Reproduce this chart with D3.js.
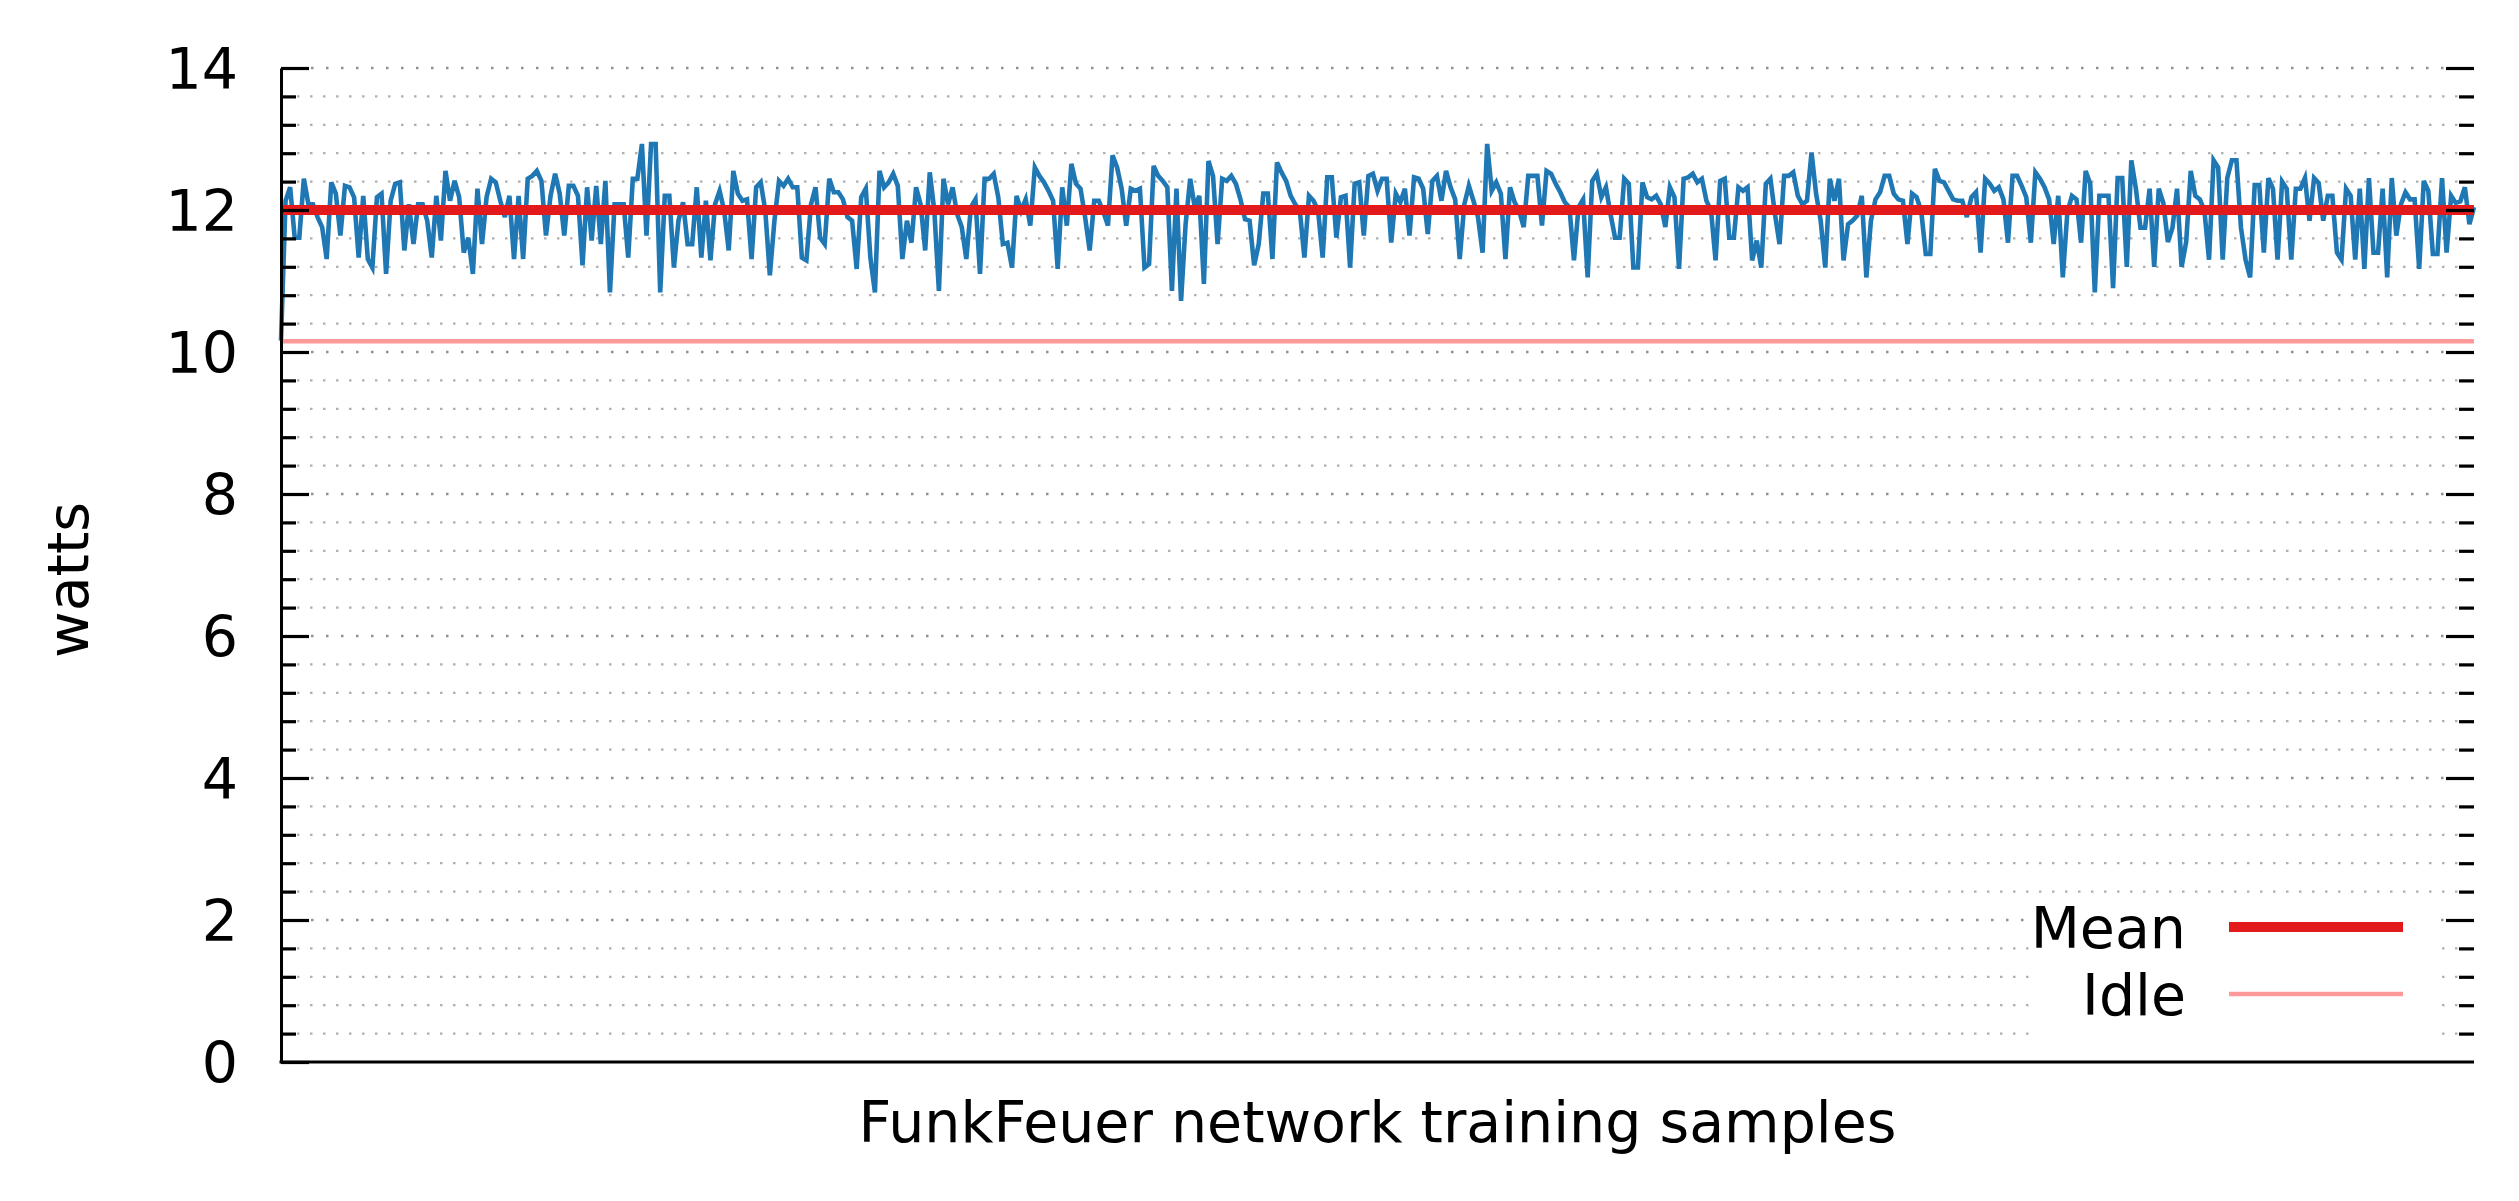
<!DOCTYPE html>
<html>
<head>
<meta charset="utf-8">
<script src="https://cdn.jsdelivr.net/npm/d3@7"></script>
<style>
  html, body { margin: 0; padding: 0; background: #fff; }
  svg { display: block; }
  text { font-family: "DejaVu Sans", sans-serif; fill: #000; }
</style>
</head>
<body>
<svg id="chart" width="2519" height="1201"></svg>
<script>
// ---- data ----
const yMajorTicks = [0, 2, 4, 6, 8, 10, 12, 14];
const yMinorTicks = [0.4, 0.8, 1.2, 1.6, 2.4, 2.8, 3.2, 3.6, 4.4, 4.8, 5.2, 5.6,
  6.4, 6.8, 7.2, 7.6, 8.4, 8.8, 9.2, 9.6, 10.4, 10.8, 11.2, 11.6, 12.4, 12.8, 13.2, 13.6];
const meanWatts = 12.0;
const idleWatts = 10.15;
const legendLabels = ["Mean", "Idle"];
const xTitle = "FunkFeuer network training samples";
const yTitle = "watts";

const power = [
  10.16, 12.13, 12.32, 11.61, 11.61, 12.44, 12.08, 12.08, 11.9, 11.76, 11.31, 12.39, 12.23, 11.64, 12.34, 12.32,
  12.18, 11.33, 12.2, 11.31, 11.19, 12.18, 12.23, 11.1, 12.13, 12.37, 12.39, 11.43, 12.08, 11.52, 12.08, 12.08,
  11.85, 11.33, 12.2, 11.57, 12.55, 12.13, 12.41, 12.18, 11.4, 11.61, 11.1, 12.3, 11.52, 12.18, 12.44, 12.39,
  12.13, 11.9, 12.2, 11.31, 12.2, 11.31, 12.44, 12.48, 12.55, 12.41, 11.64, 12.2, 12.51, 12.23, 11.64, 12.34,
  12.34, 12.2, 11.22, 12.32, 11.57, 12.34, 11.52, 12.41, 10.84, 12.08, 12.08, 12.08, 11.33, 12.44, 12.44, 12.93,
  11.64, 12.93, 12.93, 10.84, 12.2, 12.2, 11.19, 11.85, 12.11, 11.52,
  11.52, 12.32, 11.33, 12.13, 11.29, 12.08, 12.27, 11.99, 11.43, 12.55, 12.23, 12.13, 12.15, 11.31, 12.32, 12.39,
  11.99, 11.08, 11.85, 12.41, 12.34, 12.44, 12.32, 12.32, 11.33, 11.29, 12.08, 12.32, 11.61, 11.52, 12.44, 12.25,
  12.25, 12.15, 11.9, 11.85, 11.17, 12.18, 12.3, 11.33, 10.84, 12.55, 12.32, 12.39, 12.51, 12.34, 11.31, 11.85,
  11.54, 12.32, 12.08, 11.43, 12.53, 11.99, 10.86, 12.44, 12.08, 12.32, 11.94, 11.76, 11.31, 12.04, 12.15, 11.1,
  12.44, 12.44, 12.51, 12.18, 11.52, 11.54, 11.19, 12.2, 11.99, 12.15, 11.78, 12.6, 12.48, 12.39, 12.27, 12.13,
  11.17, 12.32, 11.78, 12.65, 12.37, 12.3, 11.9, 11.43, 12.13, 12.13, 11.97, 11.78, 12.77, 12.6, 12.3, 11.78,
  12.3, 12.27, 12.3, 11.19,
  11.24, 12.62, 12.48, 12.41, 12.32, 10.86, 12.3, 10.72, 11.8, 12.44, 12.04, 12.2, 10.96, 12.69, 12.48, 11.52,
  12.44, 12.41, 12.48, 12.37, 12.15, 11.87, 11.85, 11.22, 11.52, 12.23, 12.23, 11.31, 12.67, 12.53, 12.41, 12.2,
  12.08, 11.99, 11.33, 12.2, 12.13, 11.99, 11.33, 12.46, 12.46, 11.61, 12.18, 12.2, 11.19, 12.37, 12.39, 11.64,
  12.48, 12.51, 12.27, 12.44, 12.44, 11.54, 12.23, 12.11, 12.3, 11.64, 12.46, 12.44, 12.3, 11.66, 12.41, 12.48,
  12.13, 12.55, 12.32, 12.15, 11.31, 12.08, 12.34, 12.13, 11.9, 11.4, 12.93, 12.27, 12.39, 12.23, 11.31, 12.32,
  12.11, 11.99, 11.76, 12.48, 12.48, 12.48, 11.78, 12.55, 12.51, 12.37, 12.25, 12.11, 12.04, 11.29, 12.04, 12.15,
  11.05, 12.41, 12.51, 12.18, 12.32, 11.94, 11.61, 11.61, 12.44, 12.37, 11.19,
  11.19, 12.39, 12.18, 12.15, 12.2, 12.08, 11.76, 12.32, 12.18, 11.17, 12.44, 12.46, 12.51, 12.39, 12.44, 12.13,
  11.99, 11.29, 12.41, 12.44, 11.61, 11.61, 12.32, 12.27, 12.32, 11.29, 11.57, 11.19, 12.37, 12.44, 11.94, 11.52,
  12.48, 12.48, 12.53, 12.2, 12.08, 12.13, 12.81, 12.23, 11.85, 11.19, 12.44, 12.13, 12.44, 11.29, 11.8, 11.85,
  11.92, 12.2, 11.05, 11.85, 12.15, 12.25, 12.48, 12.48, 12.23, 12.15, 12.13, 11.52, 12.23, 12.18, 11.99, 11.38,
  11.38, 12.58, 12.41, 12.39, 12.27, 12.15, 12.13, 12.13, 11.9, 12.18, 12.25, 11.4, 12.44, 12.37, 12.27, 12.32,
  12.15, 11.54, 12.48, 12.48, 12.34, 12.18, 11.54, 12.53, 12.44, 12.32, 12.15, 11.52, 12.2, 11.05, 11.97, 12.2,
  12.15, 11.54, 12.55, 12.37, 10.84, 12.2,
  12.2, 12.2, 10.9, 12.45, 12.45, 11.2, 12.7, 12.3, 11.75, 11.75, 12.3, 11.2, 12.3, 12.1, 11.55, 11.75,
  12.3, 11.2, 11.55, 12.55, 12.2, 12.15, 11.99, 11.3, 12.7, 12.6, 11.3, 12.45, 12.7, 12.7, 11.75, 11.3,
  11.05, 12.35, 12.35, 11.4, 12.45, 12.3, 11.3, 12.4, 12.3, 11.3, 12.3, 12.3, 12.45, 11.85, 12.45, 12.38,
  11.85, 12.2, 12.2, 11.4, 11.3, 12.3, 12.2, 11.3, 12.3, 11.17, 12.45, 11.4, 11.4, 12.3, 11.05, 12.45,
  11.64, 12.08, 12.25, 12.15, 12.15, 11.17, 12.41, 12.27, 11.38, 11.38, 12.45, 11.4, 12.2, 12.1, 12.12, 12.32,
  11.8, 12.04
];

// ---- layout ----
const plot = { left: 281, right: 2474, top: 68, bottom: 1062 };
const FONT = 57;

const svg = d3.select("#chart");

const x = d3.scaleLinear().domain([0, power.length - 1]).range([plot.left, plot.right]);
const y = d3.scaleLinear().domain([0, 14]).range([plot.bottom, plot.top]);

// ---- grid (dotted) ----
const grid = svg.append("g");
grid.selectAll("line.minor").data(yMinorTicks).join("line")
  .attr("class", "minor")
  .attr("x1", plot.left + 16).attr("x2", plot.right - 16)
  .attr("y1", d => y(d)).attr("y2", d => y(d))
  .attr("stroke", "#b0b0b0").attr("stroke-width", 2.2)
  .attr("stroke-dasharray", "2.5,10.5");
grid.selectAll("line.major").data(yMajorTicks.filter(d => d > 0)).join("line")
  .attr("class", "major")
  .attr("x1", plot.left + 30).attr("x2", plot.right - 30)
  .attr("y1", d => y(d)).attr("y2", d => y(d))
  .attr("stroke", "#909090").attr("stroke-width", 2.5)
  .attr("stroke-dasharray", "2.5,12.5");

// ---- legend background (covers grid) ----
svg.append("rect")
  .attr("x", 2036).attr("y", 900).attr("width", 404).attr("height", 145)
  .attr("fill", "#fff");

// ---- series ----
svg.append("path")
  .datum(power)
  .attr("fill", "none")
  .attr("stroke", "#1f78b4")
  .attr("stroke-width", 4.6)
  .attr("stroke-linejoin", "miter")
  .attr("d", d3.line().x((d, i) => x(i)).y(d => y(d)));

// idle & mean lines
svg.append("line")
  .attr("x1", plot.left).attr("x2", plot.right)
  .attr("y1", y(idleWatts)).attr("y2", y(idleWatts))
  .attr("stroke", "#ff9999").attr("stroke-width", 4.5);
svg.append("line")
  .attr("x1", plot.left).attr("x2", plot.right)
  .attr("y1", y(meanWatts)).attr("y2", y(meanWatts))
  .attr("stroke", "#e31a1c").attr("stroke-width", 10);

// ---- axes ----
function styleAxis(g) {
  g.selectAll("path.domain").attr("stroke", "#000").attr("stroke-width", 3);
  g.selectAll(".tick line").attr("stroke", "#000").attr("stroke-width", 3.2);
  g.selectAll(".tick text").attr("font-size", FONT).attr("font-family", "DejaVu Sans").attr("fill", "#000");
}

const leftMajor = svg.append("g").attr("transform", `translate(${plot.left},0)`)
  .call(d3.axisLeft(y).tickValues(yMajorTicks).tickSize(-28).tickSizeOuter(0).tickPadding(43)
    .tickFormat(d3.format("d")));
styleAxis(leftMajor);
leftMajor.selectAll(".tick text").attr("dy", "0.36em");

const leftMinor = svg.append("g").attr("transform", `translate(${plot.left},0)`)
  .call(d3.axisLeft(y).tickValues(yMinorTicks).tickSize(-15).tickSizeOuter(0).tickFormat(""));
styleAxis(leftMinor);
leftMinor.select("path.domain").remove();

const rightMajor = svg.append("g").attr("transform", `translate(${plot.right},0)`)
  .call(d3.axisRight(y).tickValues(yMajorTicks.filter(d => d > 0)).tickSize(-28).tickSizeOuter(0).tickFormat(""));
styleAxis(rightMajor);
rightMajor.select("path.domain").remove();

const rightMinor = svg.append("g").attr("transform", `translate(${plot.right},0)`)
  .call(d3.axisRight(y).tickValues(yMinorTicks).tickSize(-15).tickSizeOuter(0).tickFormat(""));
styleAxis(rightMinor);
rightMinor.select("path.domain").remove();

const bottom = svg.append("g").attr("transform", `translate(0,${plot.bottom})`)
  .call(d3.axisBottom(x).tickValues([]).tickSizeOuter(0));
styleAxis(bottom);
bottom.select("path.domain").attr("d", `M${plot.left - 1.5},0H${plot.right}`);

// ---- titles ----
svg.append("text")
  .attr("x", (plot.left + plot.right) / 2).attr("y", 1142)
  .attr("text-anchor", "middle").attr("font-size", FONT)
  .text(xTitle);
svg.append("text")
  .attr("transform", `translate(88,580) rotate(-90)`)
  .attr("text-anchor", "middle").attr("font-size", FONT)
  .text(yTitle);

// ---- legend ----
const legendStyles = [
  { color: "#e31a1c", width: 10 },
  { color: "#ff9999", width: 4.5 }
];
const legendY = [927, 994];
const lg = svg.append("g");
legendLabels.forEach((label, i) => {
  lg.append("text")
    .attr("x", 2186).attr("y", legendY[i]).attr("dy", "0.36em")
    .attr("text-anchor", "end").attr("font-size", FONT)
    .text(label);
  lg.append("line")
    .attr("x1", 2229).attr("x2", 2403)
    .attr("y1", legendY[i]).attr("y2", legendY[i])
    .attr("stroke", legendStyles[i].color).attr("stroke-width", legendStyles[i].width);
});
</script>
</body>
</html>
